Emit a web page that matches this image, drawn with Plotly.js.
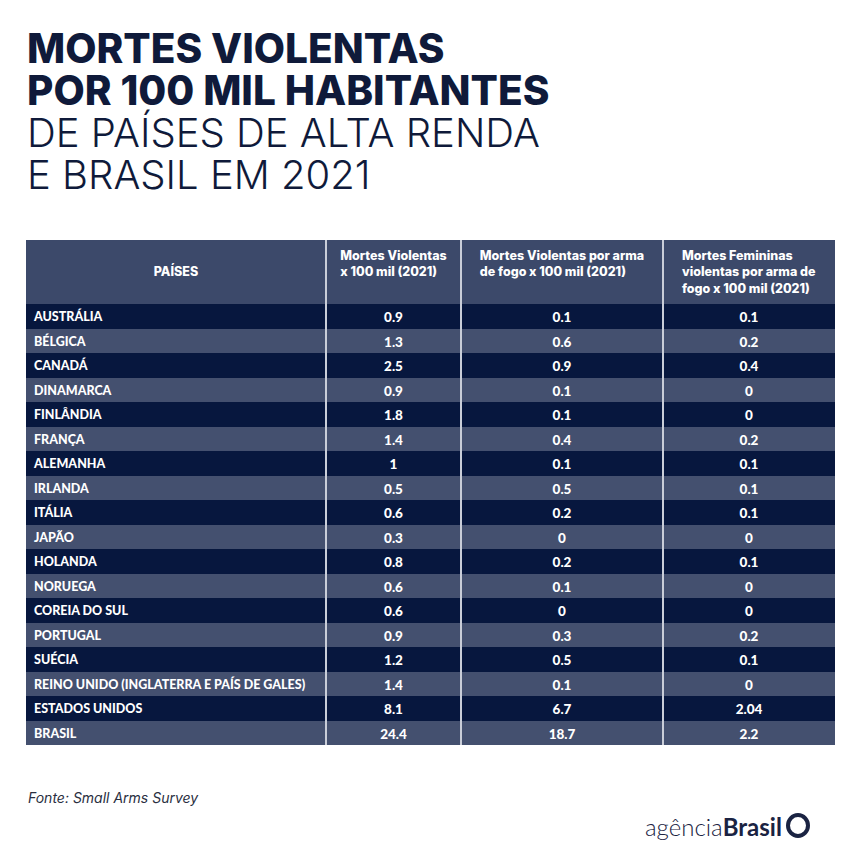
<!DOCTYPE html>
<html>
<head>
<meta charset="utf-8">
<script src="https://cdn.plot.ly/plotly-3.0.1.min.js"></script>
<style>html,body{margin:0;padding:0;background:#fff;}#chart{width:854px;height:868px;}</style>
</head>
<body>
<div id="chart"></div>
<script>
// ---- data ----
const headers = [
  "&nbsp;<br>PAÍSES",
  "Mortes Violentas<br>x 100 mil (2021)",
  "Mortes Violentas por arma<br>de fogo x 100 mil (2021)",
  "Mortes Femininas<br>violentas por arma de<br>fogo x 100 mil (2021)"
];
const paises = ["AUSTRÁLIA","BÉLGICA","CANADÁ","DINAMARCA","FINLÂNDIA","FRANÇA","ALEMANHA","IRLANDA","ITÁLIA","JAPÃO","HOLANDA","NORUEGA","COREIA DO SUL","PORTUGAL","SUÉCIA","REINO UNIDO (INGLATERRA E PAÍS DE GALES)","ESTADOS UNIDOS","BRASIL"];
const mortesViolentas = ["0.9","1.3","2.5","0.9","1.8","1.4","1","0.5","0.6","0.3","0.8","0.6","0.6","0.9","1.2","1.4","8.1","24.4"];
const mortesArmaFogo = ["0.1","0.6","0.9","0.1","0.1","0.4","0.1","0.5","0.2","0","0.2","0.1","0","0.3","0.5","0.1","6.7","18.7"];
const mortesFemininas = ["0.1","0.2","0.4","0","0","0.2","0.1","0.1","0.1","0","0.1","0","0","0.2","0.1","0","2.04","2.2"];
const titleBold = ["MORTES VIOLENTAS", "POR 100 MIL HABITANTES"];
const titleLight = ["DE PAÍSES DE ALTA RENDA", "E BRASIL EM 2021"];

// ---- layout helpers ----
const W = 854, H = 868;
const px = x => x / W;
const py = y => 1 - y / H;
const tableLeft = 26, tableRight = 835, tableTop = 240, tableBottom = 745;
const headerH = 64;
const rowH = (tableBottom - tableTop - headerH) / paises.length;
const colEdges = [26, 326, 461, 663, 835];
const colWidths = colEdges.slice(1).map((e, i) => e - colEdges[i]);

const dark = "#07173e", light = "#44506f", headFill = "#3c496a";
const rowColors = paises.map((_, i) => i % 2 === 0 ? dark : light);

const trace = {
  type: "table",
  domain: {x: [px(tableLeft), px(tableRight)], y: [py(tableBottom), py(tableTop)]},
  columnwidth: colWidths,
  header: {
    values: headers,
    align: "center",
    height: headerH,
    fill: {color: headFill},
    line: {width: 0, color: headFill},
    font: {family: "Inter", size: 12.5, color: "#ffffff", weight: 800}
  },
  cells: {
    values: [paises, mortesViolentas, mortesArmaFogo, mortesFemininas],
    align: ["left", "center", "center", "center"],
    height: rowH,
    fill: {color: [rowColors, rowColors, rowColors, rowColors]},
    line: {width: 0, color: [rowColors, rowColors, rowColors, rowColors]},
    font: {family: "Lato", size: [12.5, 13.5, 13.5, 13.5], color: "#ffffff", weight: 900}
  }
};

const navy = "#0f1a3a";
const shapes = colEdges.slice(1, 4).map(x => ({
  type: "line", xref: "paper", yref: "paper",
  x0: px(x), x1: px(x), y0: py(tableTop), y1: py(tableBottom),
  line: {color: "#c9cdd8", width: 2}
}));
// logo icon
shapes.push({
  type: "circle", xref: "paper", yref: "paper",
  x0: px(788), x1: px(808), y0: py(836), y1: py(815),
  line: {color: "#1a2342", width: 4}
});

const titleText =
  titleBold.map(t => `<span style="font-size:40.5px;font-weight:800">${t}</span>`).join("<br>") + "<br>" +
  titleLight.map(t => `<span style="font-size:40px;font-weight:300">${t}</span>`).join("<br>");

const annotations = [
  {text: titleText, x: px(25), y: py(111), font: {size: 32.3, family: "Inter", color: navy}},
  {text: "Fonte: Small Arms Survey", x: px(26), y: py(797), font: {size: 14, style: "italic", family: "Inter", color: "#2a2f3f"}},
  {text: "agência<b>Brasil</b>", x: px(784), xanchor: "right", y: py(826), font: {size: 24, weight: 300, family: "Lato", color: "#1a2342"}}
].map(a => Object.assign({xref: "paper", yref: "paper", xanchor: "left", yanchor: "middle", showarrow: false, align: "left"}, a));

const layout = {
  width: W, height: H,
  margin: {l: 0, r: 0, t: 0, b: 0},
  paper_bgcolor: "#ffffff",
  shapes: shapes,
  annotations: annotations
};

Plotly.newPlot("chart", [trace], layout, {displayModeBar: false, staticPlot: true});
</script>
</body>
</html>
